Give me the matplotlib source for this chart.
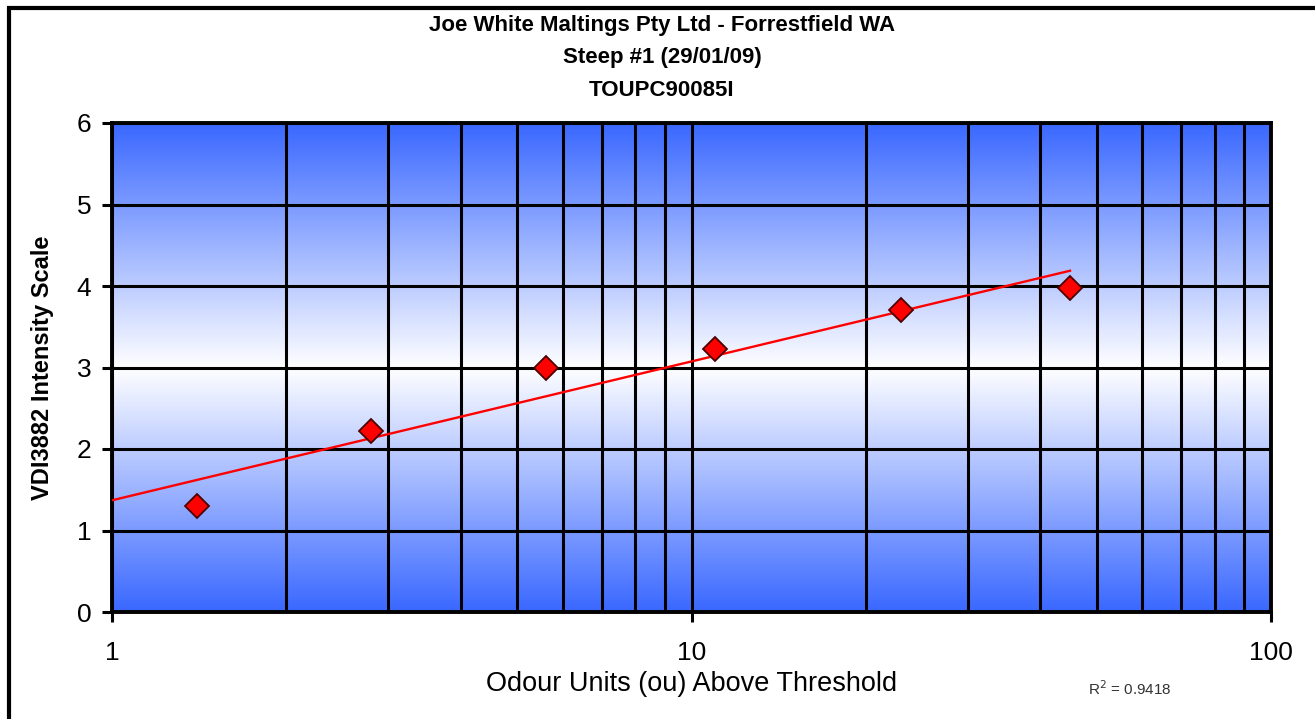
import numpy as np
import matplotlib
matplotlib.use("Agg")
import matplotlib.pyplot as plt
from matplotlib.colors import LinearSegmentedColormap
from matplotlib.patches import Rectangle
from matplotlib.ticker import LogLocator, NullFormatter, FixedLocator

# ---- data ----
odour_units = [1.4, 2.8, 5.6, 11, 23, 45]
intensity = [1.3, 2.22, 3.0, 3.23, 3.7, 3.97]
title_lines = ["Joe White Maltings Pty Ltd - Forrestfield WA", "Steep #1 (29/01/09)", "TOUPC90085I"]
x_label = "Odour Units (ou) Above Threshold"
y_label = "VDI3882 Intensity Scale"
r2_text = "R$^2$ = 0.9418"
x_ticks = [1, 10, 100]
x_ticklabels = ["1", "10", "100"]
y_ticks = [0, 1, 2, 3, 4, 5, 6]

plt.rcParams['font.family'] = ['Liberation Sans', 'DejaVu Sans']

fig = plt.figure(figsize=(13.15, 7.19), dpi=100)
ax = fig.add_axes([112/1315, 1 - 612/719, (1271 - 112)/1315, (612 - 123)/719])

# gradient background: blue - white - blue
cmap = LinearSegmentedColormap.from_list("bg", ["#3a68ff", "#ffffff", "#3a68ff"])
grad = np.linspace(0, 1, 256).reshape(-1, 1)
ax.imshow(grad, aspect='auto', cmap=cmap, extent=[0, 1, 0, 1], transform=ax.transAxes,
          zorder=0, interpolation='bilinear')

ax.set_xscale('log')
ax.set_xlim(1, 100)
ax.set_ylim(0, 6)

# gridlines (major + minor) thick black
ax.xaxis.set_major_locator(FixedLocator(x_ticks))
ax.set_xticklabels(x_ticklabels)
ax.xaxis.set_minor_locator(LogLocator(base=10, subs=np.arange(2, 10)))
ax.xaxis.set_minor_formatter(NullFormatter())
ax.set_yticks(y_ticks)
ax.grid(True, which='both', axis='x', color='black', linewidth=2.2, zorder=1)
ax.grid(True, which='major', axis='y', color='black', linewidth=2.2, zorder=1)
ax.tick_params(axis='x', which='minor', length=0)
ax.tick_params(axis='both', which='major', length=7, width=2.2, labelsize=19, pad=14)
ax.tick_params(axis='y', which='major', pad=8)

for sp in ax.spines.values():
    sp.set_linewidth(2.8)
    sp.set_zorder(3)

# trendline (log fit)
lx = np.log10(odour_units)
slope, intercept = np.polyfit(lx, intensity, 1)
xf = np.logspace(0, np.log10(max(odour_units)), 100)
ax.plot(xf, slope * np.log10(xf) + intercept, color='#ff0000', linewidth=1.7, zorder=4)

ax.plot(odour_units, intensity, linestyle='none', marker='D', markersize=12,
        markerfacecolor='#ff0000', markeredgecolor='#4a0000', markeredgewidth=1.3, zorder=5)

ax.set_xlabel(x_label, fontsize=19.5, labelpad=4)
ax.set_ylabel(y_label, fontsize=17, fontweight='bold')
ax.yaxis.set_label_coords(-0.05, 0.5)

title_y = [26, 58, 90]
for t, yy in zip(title_lines, title_y):
    fig.text(662/1315, 1 - yy / 719, t, ha='center', va='center',
             fontsize=16, fontweight='bold')

fig.text(1130/1315, 1 - 689/719, r2_text, fontsize=11, ha='center', va='center', color='#333333')

# outer frame (top and left visible)
fig.patches.append(Rectangle((9/1315, -0.05), 1.2, 1 - 8/719 + 0.05, transform=fig.transFigure,
                             fill=False, edgecolor='black', linewidth=3))

fig.savefig("out.png", dpi=100)
